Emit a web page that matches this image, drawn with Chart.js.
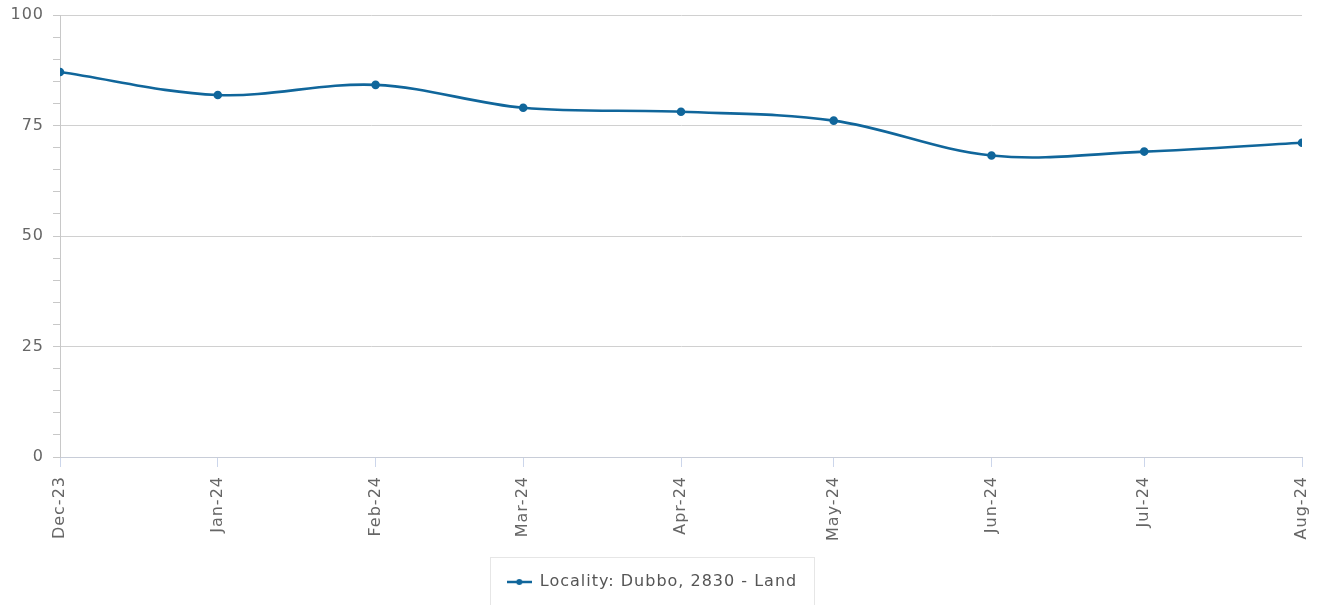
<!DOCTYPE html>
<html>
<head>
<meta charset="utf-8">
<style>
  html, body { margin: 0; padding: 0; background: #fff; }
  #wrap { width: 1322px; height: 605px; }
</style>
</head>
<body>
<div id="wrap"><canvas id="trendChart" width="1322" height="605"></canvas></div>

<script src="https://cdn.jsdelivr.net/npm/chart.js"></script>
<script>
    const months = ["2023-12-01", "2024-01-01", "2024-02-01", "2024-03-01", "2024-04-01", "2024-05-01", "2024-06-01", "2024-07-01", "2024-08-01"];
    const values = [87.1, 81.9, 84.2, 79.0, 78.1, 76.1, 68.2, 69.1, 71.1];
    const monthNames = ["Jan", "Feb", "Mar", "Apr", "May", "Jun", "Jul", "Aug", "Sep", "Oct", "Nov", "Dec"];
    const seriesLabel = "Locality: Dubbo, 2830 - Land";

    const DAY = 86400000;
    const toDay = s => Date.parse(s + "T00:00:00Z") / DAY;
    const dayLabel = d => { const dt = new Date(d * DAY); return monthNames[dt.getUTCMonth()] + "-" + String(dt.getUTCFullYear()).slice(2); };
    const points = months.map((m, i) => ({ x: toDay(m), y: values[i] }));

    const lineBlue = "#10669b";
    const grey = "#666";
    Chart.defaults.font.family = "'DejaVu Sans', sans-serif";
    Chart.defaults.font.size = 16;

    // legend marker: short line with a dot
    const mark = document.createElement("canvas");
    mark.width = 25; mark.height = 8;
    const mc = mark.getContext("2d");
    mc.strokeStyle = lineBlue; mc.lineWidth = 2.5;
    mc.beginPath(); mc.moveTo(0, 4); mc.lineTo(25, 4); mc.stroke();
    mc.fillStyle = lineBlue; mc.beginPath(); mc.arc(12.5, 4, 3, 0, Math.PI * 2); mc.fill();

    // text in the original is a bit wider than plain DejaVu
    const spacing = {
        id: "spacing",
        beforeUpdate(chart) { chart.ctx.letterSpacing = "1px"; },
        beforeDraw(chart) { chart.ctx.letterSpacing = "1px"; }
    };

    const legendBox = {
        id: "legendBox",
        afterDraw(chart) {
            const hb = chart.legend.legendHitBoxes[0];
            if (!hb) return;
            const c = chart.ctx;
            c.save();
            c.strokeStyle = "#e6e6e6"; c.lineWidth = 1;
            c.strokeRect(Math.round(hb.left - 17) + 0.5, Math.round(hb.top - 17) + 0.5, Math.round(hb.width + 34), 70);
            c.restore();
        }
    };

    new Chart(document.getElementById("trendChart").getContext("2d"), {
        type: "line",
        data: { datasets: [{ label: seriesLabel, data: points, borderColor: lineBlue, backgroundColor: lineBlue, borderWidth: 2.6, pointRadius: 3, pointHoverRadius: 4, tension: 0.35 }] },
        options: {
            responsive: false, animation: false,
            layout: { padding: { left: 2, right: 20, top: 15, bottom: 5 } },
            scales: {
                x: {
                    type: "linear", min: points[0].x, max: points[points.length - 1].x,
                    afterBuildTicks: s => { s.ticks = points.map(p => ({ value: p.x })); },
                    afterFit: s => { s.height = 83; s.paddingLeft = 0; s.paddingRight = 0; },
                    ticks: { color: grey, minRotation: 90, maxRotation: 90, padding: 9, autoSkip: false, callback: v => dayLabel(v) },
                    grid: { drawOnChartArea: false, tickLength: 10, tickColor: "#ccd6eb", color: "#ccd6eb" },
                    border: { color: "#c8cdd8" }
                },
                y: {
                    min: 0, max: 100,
                    afterFit: s => { s.width = 58; s.paddingTop = 0; s.paddingBottom = 0; },
                    ticks: { stepSize: 5, color: grey, padding: 9, autoSkip: false, callback: v => (v % 25 === 0 ? v : "") },
                    grid: { tickLength: 7, color: c => (c.tick && c.tick.value % 25 === 0 ? "#d0d0d0" : "rgba(0,0,0,0)"), tickColor: "#c8c8c8" },
                    border: { color: "#c8c8c8" }
                }
            },
            plugins: {
                legend: { position: "bottom", labels: { color: "#555", usePointStyle: true, pointStyle: mark, pointStyleWidth: 25, padding: 34 } },
                tooltip: { enabled: false }
            }
        },
        plugins: [spacing, legendBox]
    });
</script>
</body>
</html>
